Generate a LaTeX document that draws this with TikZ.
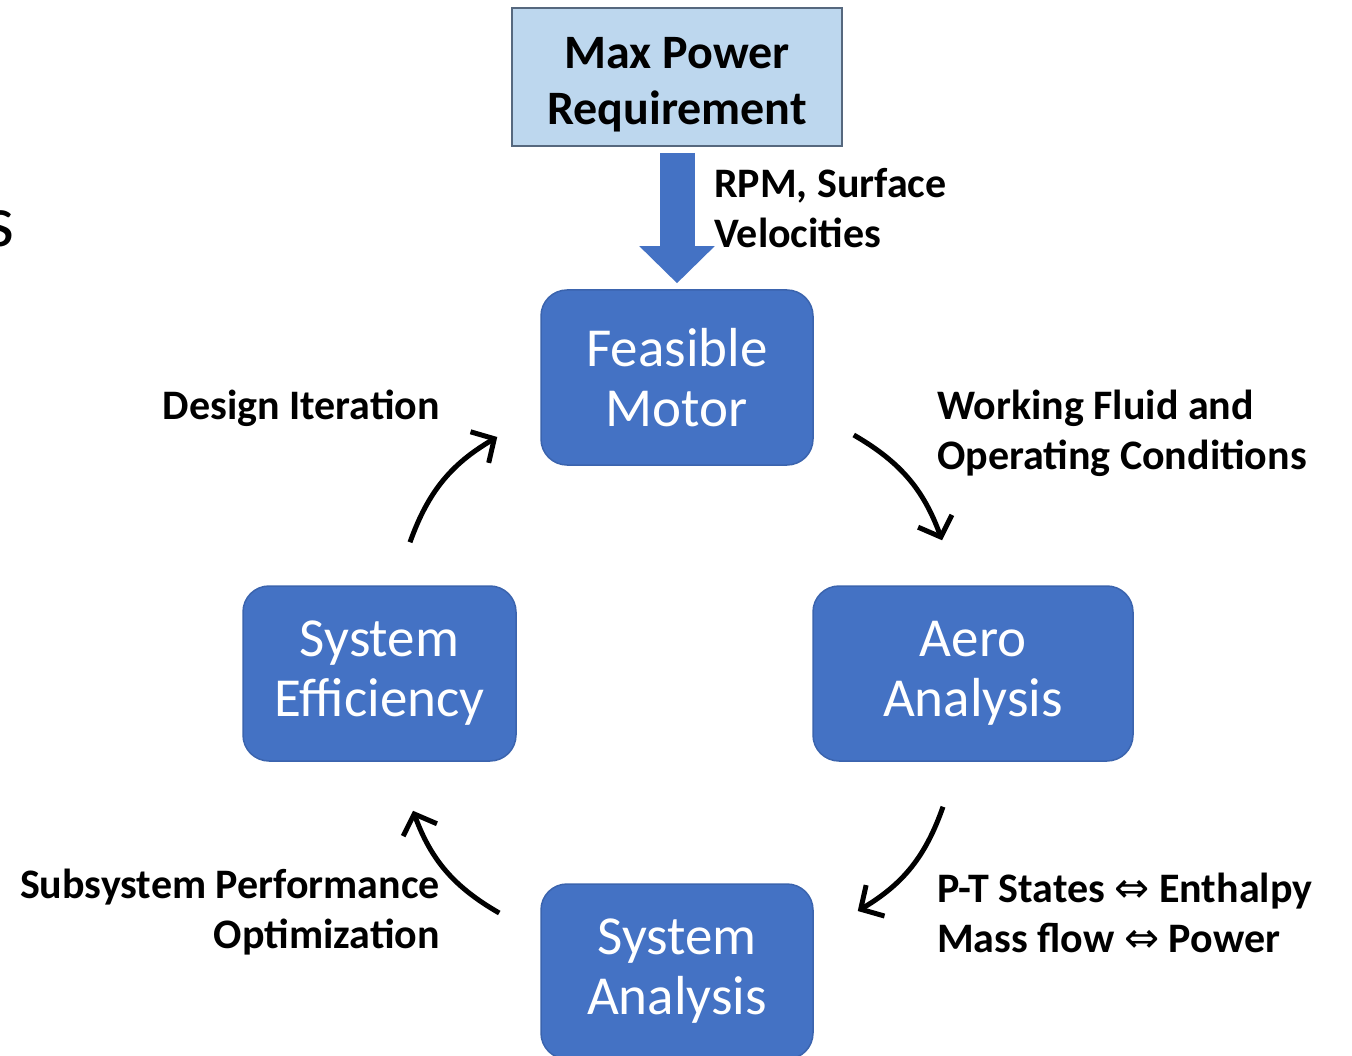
\documentclass[tikz,border=0pt]{standalone}
\usepackage{fontspec}
\setmainfont{Carlito}
\newfontfamily\symbolfont{DejaVu Sans}
\usetikzlibrary{arrows.meta, positioning}
\definecolor{stageblue}{HTML}{4472C4}
\definecolor{stageedge}{HTML}{3B64AE}
\definecolor{reqfill}{HTML}{BDD7EE}
\definecolor{reqedge}{HTML}{56687E}
\newcommand{\equiarrow}{{\symbolfont\mdseries ⇔}}

\begin{document}
\begin{tikzpicture}[x=1pt, y=1pt,
    stage/.style={draw=stageedge, line width=1.5pt, fill=stageblue, rounded corners=26pt,
        text=white, align=center, inner sep=0pt, minimum height=175pt,
        font=\fontsize{55}{60}\selectfont},
    requirement/.style={draw=reqedge, line width=2pt, fill=reqfill, align=center,
        inner sep=0pt, minimum width=330pt, minimum height=138pt,
        font=\bfseries\fontsize{48}{56}\selectfont},
    note/.style={inner sep=0pt, font=\bfseries\fontsize{42}{50}\selectfont},
    flow/.style={line width=5pt, -{Straight Barb[length=17pt, width=36pt]}, bend left=20}]

    \useasboundingbox (0,0) rectangle (1352,-1056);

    \node[requirement] (maxreq) at (677,-77) {\rule{0pt}{46pt}Max Power\\Requirement};

    \node[stage, minimum width=272pt] (motor) at (677,-377.5) {Feasible\\Motor};
    \node[stage, minimum width=320pt] (aero) at (973,-673.5) {Aero\\Analysis};
    \node[stage, minimum width=273pt] (effic) at (379.5,-673.5) {System\\Efficiency};
    \node[stage, minimum width=272pt] (sysan) at (677,-971.5) {System\\Analysis};

    \node[anchor=base east, inner sep=0pt, font=\fontsize{74}{80}\selectfont] (tail) at (15,-247) {s};

    \draw[stageblue, line width=35pt, -{Triangle[length=37pt, width=73pt]}]
        ([yshift=-6pt]maxreq.south) -- ([yshift=6pt]motor.north);

    \node[note, anchor=west, align=left] (rpm) at (714,-208) {RPM, Surface\\Velocities};
    \node[note, anchor=east] (iter) at (440,-408) {Design Iteration};
    \node[note, anchor=west, align=left] (fluid) at (937,-433) {Working Fluid and\\Operating Conditions};
    \node[note, anchor=east, align=right] (subsys) at (440,-912) {Subsystem Performance\\Optimization};
    \node[note, anchor=west, align=left] (states) at (937,-913) {P-T States \equiarrow{} Enthalpy\\Mass flow \equiarrow{} Power};

    \draw[flow] ([shift={(30.5pt,43pt)}]effic.north) to ([shift={(-43pt,-59.5pt)}]motor.west);
    \draw[flow] ([shift={(40pt,-57.5pt)}]motor.east) to ([shift={(-31pt,45pt)}]aero.north);
    \draw[flow] ([shift={(-30pt,-45pt)}]aero.south) to ([shift={(44pt,60.5pt)}]sysan.east);
    \draw[flow] ([shift={(-41pt,58.5pt)}]sysan.west) to ([shift={(33.5pt,-49pt)}]effic.south);

\end{tikzpicture}
\end{document}
